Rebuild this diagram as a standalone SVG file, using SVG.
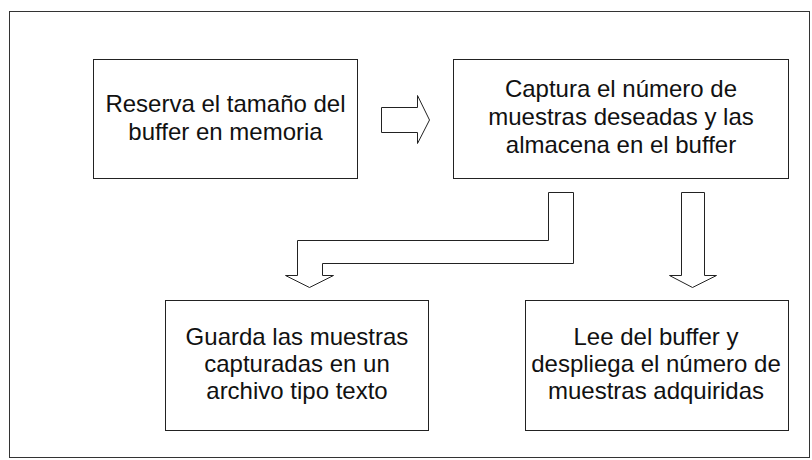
<svg xmlns="http://www.w3.org/2000/svg" width="812" height="460" viewBox="0 0 812 460">
<style>
.box{fill:#fff;stroke:#222;stroke-width:1}
.frame{fill:none;stroke:#333;stroke-width:1}
.arr{fill:#fff;stroke:#222;stroke-width:1;stroke-linejoin:miter}
text{font-family:"Liberation Sans",Arial,sans-serif;font-size:24px;fill:#111;text-anchor:middle}
</style>
<rect width="812" height="460" fill="#fff"/>
<rect class="frame" x="9.5" y="11.5" width="800" height="446"/>
<g id="connectors">
<polygon class="arr" points="381.5,107.5 417.5,107.5 417.5,95.5 429.5,120 417.5,143.5 417.5,132.5 381.5,132.5"/>
<polygon class="arr" points="548.5,192.5 573.5,192.5 573.5,263.5 322.5,263.5 322.5,275.5 333.5,275.5 309.5,287.5 285.5,275.5 297.5,275.5 297.5,240.5 548.5,240.5"/>
<polygon class="arr" points="681.5,192.5 704.5,192.5 704.5,275.5 716.5,275.5 692.5,287.5 669.5,275.5 681.5,275.5"/>
</g>
<g id="n1">
<rect class="box" x="93.5" y="59.5" width="264" height="119"/>
<text x="225.5" y="112">Reserva el tamaño del</text>
<text x="225.5" y="140">buffer en memoria</text>
</g>
<g id="n2">
<rect class="box" x="453.5" y="59.5" width="335" height="119"/>
<text x="621" y="97">Captura el número de</text>
<text x="621" y="125">muestras deseadas y las</text>
<text x="621" y="153">almacena en el buffer</text>
</g>
<g id="n3">
<rect class="box" x="165.5" y="300.5" width="263" height="130"/>
<text x="297" y="345">Guarda las muestras</text>
<text x="297" y="372">capturadas en un</text>
<text x="297" y="399">archivo tipo texto</text>
</g>
<g id="n4">
<rect class="box" x="525.5" y="300.5" width="263" height="130"/>
<text x="656" y="345">Lee del buffer y</text>
<text x="656" y="372">despliega el número de</text>
<text x="656" y="399">muestras adquiridas</text>
</g>
</svg>
